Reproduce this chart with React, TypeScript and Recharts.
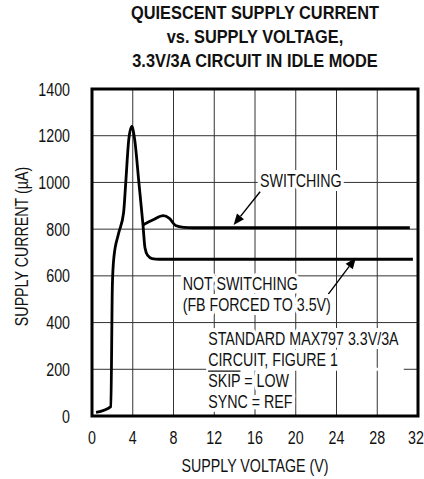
import React from "react";
import {
  LineChart,
  Line,
  XAxis,
  YAxis,
  CartesianGrid,
  ReferenceArea,
  ReferenceLine,
  ReferenceDot,
} from "recharts";

// Arial metrics squeezed horizontally ~ Helvetica Narrow
const FONT = "'Liberation Sans', Arial, sans-serif";
const NARROW = 0.77;
const FS = 18.5;

const xTicks = [0, 4, 8, 12, 16, 20, 24, 28, 32];
const yTicks = [0, 200, 400, 600, 800, 1000, 1200, 1400];

// supply voltage (V) vs supply current (uA)
const notSwitching = [
  { v: 0.4, i: 15 },
  { v: 1.85, i: 40 },
  { v: 2.0, i: 560 },
  { v: 2.15, i: 680 },
  { v: 2.6, i: 780 },
  { v: 3.1, i: 870 },
  { v: 3.3, i: 990 },
  { v: 3.6, i: 1180 },
  { v: 3.9, i: 1240 },
  { v: 4.2, i: 1180 },
  { v: 4.6, i: 1000 },
  { v: 5.0, i: 820 },
  { v: 5.2, i: 720 },
  { v: 5.45, i: 688 },
  { v: 5.9, i: 674 },
  { v: 6.6, i: 671 },
  { v: 31.5, i: 671 },
];

const switching = [
  { v: 5.0, i: 818 },
  { v: 6.0, i: 840 },
  { v: 7.0, i: 858 },
  { v: 7.6, i: 846 },
  { v: 8.2, i: 816 },
  { v: 9.0, i: 808 },
  { v: 10.0, i: 806 },
  { v: 31.2, i: 806 },
];

const halo = {
  stroke: "#fff",
  strokeWidth: 8,
  paintOrder: "stroke" as const,
  strokeLinejoin: "round" as const,
};

function Arrow(props: any) {
  const { x1, y1, x2, y2 } = props;
  const a = Math.atan2(y2 - y1, x2 - x1);
  const len = 11;
  const w = 4.5;
  const bx = x2 - len * Math.cos(a);
  const by = y2 - len * Math.sin(a);
  const px = -Math.sin(a) * w;
  const py = Math.cos(a) * w;
  return (
    <g>
      <line x1={x1} y1={y1} x2={bx} y2={by} stroke="#000" strokeWidth={1.4} />
      <polygon
        points={`${x2},${y2} ${bx + px},${by + py} ${bx - px},${by - py}`}
        fill="#000"
      />
    </g>
  );
}

function NarrowTick(props: any) {
  const { x, y, payload, textAnchor, axis } = props;
  return (
    <g transform={`translate(${x},${y}) scale(${NARROW},1)`}>
      <text
        x={0}
        y={0}
        dy={axis === "x" ? "0.71em" : "0.355em"}
        textAnchor={textAnchor}
        fontFamily={FONT}
        fontSize={FS}
        fill="#111"
      >
        {payload.value}
      </text>
    </g>
  );
}

// multi-line note, lines 21px apart; overlineIdx gets a bar over its first word
function Note(lines: string[], anchor: "start" | "middle", overlineIdx = -1, overlineW = 0) {
  return (props: any) => (
    <g transform={`translate(${props.cx},${props.cy}) scale(${NARROW},1)`}>
      <text x={0} y={0} textAnchor={anchor} fontFamily={FONT} fontSize={FS} fill="#111" {...halo}>
        {lines.map((l, k) => (
          <tspan key={k} x={0} dy={k === 0 ? "0.36em" : 21}>
            {l}
          </tspan>
        ))}
      </text>
      {overlineIdx >= 0 && (
        <line
          x1={0}
          x2={overlineW}
          y1={6.6 + overlineIdx * 21 - 15.5}
          y2={6.6 + overlineIdx * 21 - 15.5}
          stroke="#111"
          strokeWidth={1.2}
        />
      )}
    </g>
  );
}

function YTitle(props: any) {
  const vb = props.viewBox;
  const cy = vb.y + vb.height / 2 - 6;
  return (
    <g transform={`translate(28,${cy}) rotate(-90) scale(${NARROW},1)`}>
      <text x={0} y={0} textAnchor="middle" fontFamily={FONT} fontSize={FS} fill="#111">
        SUPPLY CURRENT ({"\u00b5"}A)
      </text>
    </g>
  );
}

function XTitle(props: any) {
  const vb = props.viewBox;
  return (
    <g transform={`translate(${vb.x + vb.width / 2},472) scale(${NARROW},1)`}>
      <text x={0} y={0} textAnchor="middle" fontFamily={FONT} fontSize={FS} fill="#111">
        SUPPLY VOLTAGE (V)
      </text>
    </g>
  );
}

export default function App() {
  return (
    <div style={{ position: "absolute", left: 0, top: 0, width: 424, height: 479, background: "#fff" }}>
      <div
        style={{
          position: "absolute",
          left: 55,
          top: 1,
          width: 400,
          textAlign: "center",
          fontFamily: FONT,
          fontWeight: 700,
          fontSize: 19,
          lineHeight: "24px",
          color: "#111",
          transform: "scaleX(0.86)",
          transformOrigin: "center",
        }}
      >
        QUIESCENT SUPPLY CURRENT
        <br />
        vs. SUPPLY VOLTAGE,
        <br />
        3.3V/3A CIRCUIT IN IDLE MODE
      </div>
      <LineChart
        width={424}
        height={479}
        margin={{ top: 89, right: 6, bottom: 0, left: 0 }}
        style={{ position: "absolute", left: 0, top: 0 }}
      >
        <CartesianGrid stroke="#333" strokeWidth={1} />
        <XAxis
          type="number"
          dataKey="v"
          domain={[0, 32]}
          ticks={xTicks}
          height={63}
          tickSize={0}
          tickMargin={15}
          axisLine={false}
          tickLine={false}
          tick={<NarrowTick axis="x" />}
          label={{ content: XTitle }}
        />
        <YAxis
          type="number"
          dataKey="i"
          domain={[0, 1400]}
          ticks={yTicks}
          width={92}
          tickSize={0}
          tickMargin={22}
          axisLine={false}
          tickLine={false}
          tick={<NarrowTick axis="y" />}
          label={{ content: YTitle }}
        />
        <ReferenceLine
          segment={[{ x: 11.2, y: 200 }, { x: 30.6, y: 200 }]}
          stroke="#fff"
          strokeWidth={3}
        />
        <Line
          data={notSwitching}
          dataKey="i"
          type="monotone"
          stroke="#000"
          strokeWidth={2.8}
          dot={false}
          isAnimationActive={false}
        />
        <Line
          data={switching}
          dataKey="i"
          type="monotone"
          stroke="#000"
          strokeWidth={2.8}
          dot={false}
          isAnimationActive={false}
        />
        <ReferenceLine
          segment={[{ x: 16.5, y: 960 }, { x: 13.9, y: 818 }]}
          shape={Arrow}
        />
        <ReferenceLine
          segment={[{ x: 23.2, y: 522 }, { x: 25.9, y: 678 }]}
          shape={Arrow}
        />
        <ReferenceDot x={20.5} y={1010} r={0} shape={Note(["SWITCHING"], "middle")} />
        <ReferenceDot
          x={8.9}
          y={569}
          r={0}
          shape={Note(["NOT SWITCHING", "(FB FORCED TO 3.5V)"], "start")}
        />
        <ReferenceDot
          x={11.4}
          y={334}
          r={0}
          shape={Note(
            ["STANDARD MAX797 3.3V/3A", "CIRCUIT, FIGURE 1", "SKIP = LOW", "SYNC = REF"],
            "start",
            2,
            42
          )}
        />
        <ReferenceArea
          x1={0}
          x2={32}
          y1={0}
          y2={1400}
          fill="none"
          stroke="#000"
          strokeWidth={3}
        />
      </LineChart>
    </div>
  );
}
